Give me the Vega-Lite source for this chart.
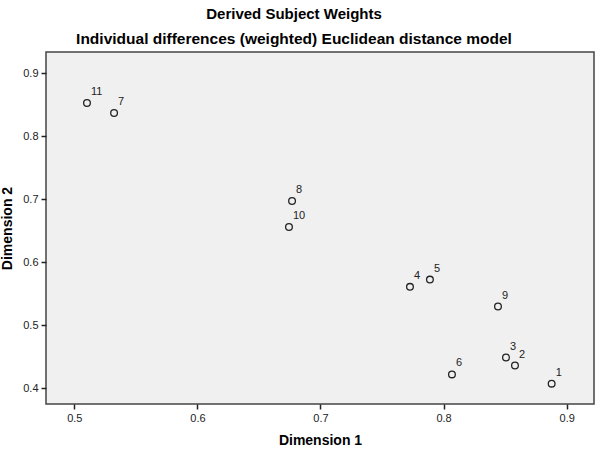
{
  "$schema": "https://vega.github.io/schema/vega-lite/v6.json",
  "width": 548,
  "height": 352,
  "autosize": {"type": "none"},
  "padding": {"left": 46, "top": 52, "right": 7, "bottom": 45},
  "background": "white",
  "title": {
    "text": "Derived Subject Weights",
    "subtitle": "Individual differences (weighted) Euclidean distance model",
    "anchor": "middle",
    "dx": -26,
    "offset": 5,
    "font": "Liberation Sans",
    "fontSize": 15,
    "fontWeight": "bold",
    "color": "black",
    "subtitleFont": "Liberation Sans",
    "subtitleFontSize": 15.5,
    "subtitleFontWeight": "bold",
    "subtitleColor": "black",
    "subtitlePadding": 10
  },
  "config": {
    "view": {"fill": "#f0f0f0", "stroke": "#444", "strokeWidth": 1.5},
    "axis": {
      "grid": false,
      "domain": false,
      "tickColor": "#222",
      "tickSize": 5,
      "tickWidth": 1.5,
      "labelFont": "Liberation Sans",
      "labelFontSize": 11,
      "labelColor": "#222",
      "titleFont": "Liberation Sans",
      "titleFontSize": 14,
      "titleFontWeight": "bold",
      "titleColor": "black"
    }
  },
  "data": {
    "values": [
      {"id": "1", "d1": 0.8878, "d2": 0.4073},
      {"id": "2", "d1": 0.858, "d2": 0.436},
      {"id": "3", "d1": 0.8507, "d2": 0.4487},
      {"id": "4", "d1": 0.7727, "d2": 0.561},
      {"id": "5", "d1": 0.7889, "d2": 0.5725},
      {"id": "6", "d1": 0.8068, "d2": 0.422},
      {"id": "7", "d1": 0.5323, "d2": 0.837},
      {"id": "8", "d1": 0.6769, "d2": 0.6973},
      {"id": "9", "d1": 0.8442, "d2": 0.5297},
      {"id": "10", "d1": 0.6744, "d2": 0.656},
      {"id": "11", "d1": 0.5103, "d2": 0.8529}
    ]
  },
  "encoding": {
    "x": {
      "field": "d1", "type": "quantitative",
      "scale": {"domain": [0.477, 0.9222], "nice": false, "zero": false},
      "axis": {"title": "Dimension 1", "values": [0.5, 0.6, 0.7, 0.8, 0.9], "format": ".1f", "titlePadding": 10, "labelPadding": 3}
    },
    "y": {
      "field": "d2", "type": "quantitative",
      "scale": {"domain": [0.375, 0.9338], "nice": false, "zero": false},
      "axis": {"title": "Dimension 2", "values": [0.4, 0.5, 0.6, 0.7, 0.8, 0.9], "format": ".1f", "titlePadding": 8, "labelPadding": 3}
    }
  },
  "layer": [
    {
      "mark": {"type": "point", "shape": "circle", "filled": false, "stroke": "#222", "strokeWidth": 1.3, "size": 45, "opacity": 1}
    },
    {
      "mark": {"type": "text", "dx": 4, "dy": -6, "align": "left", "baseline": "bottom", "font": "Liberation Sans", "fontSize": 11, "fill": "#222"},
      "encoding": {"text": {"field": "id"}}
    }
  ]
}
